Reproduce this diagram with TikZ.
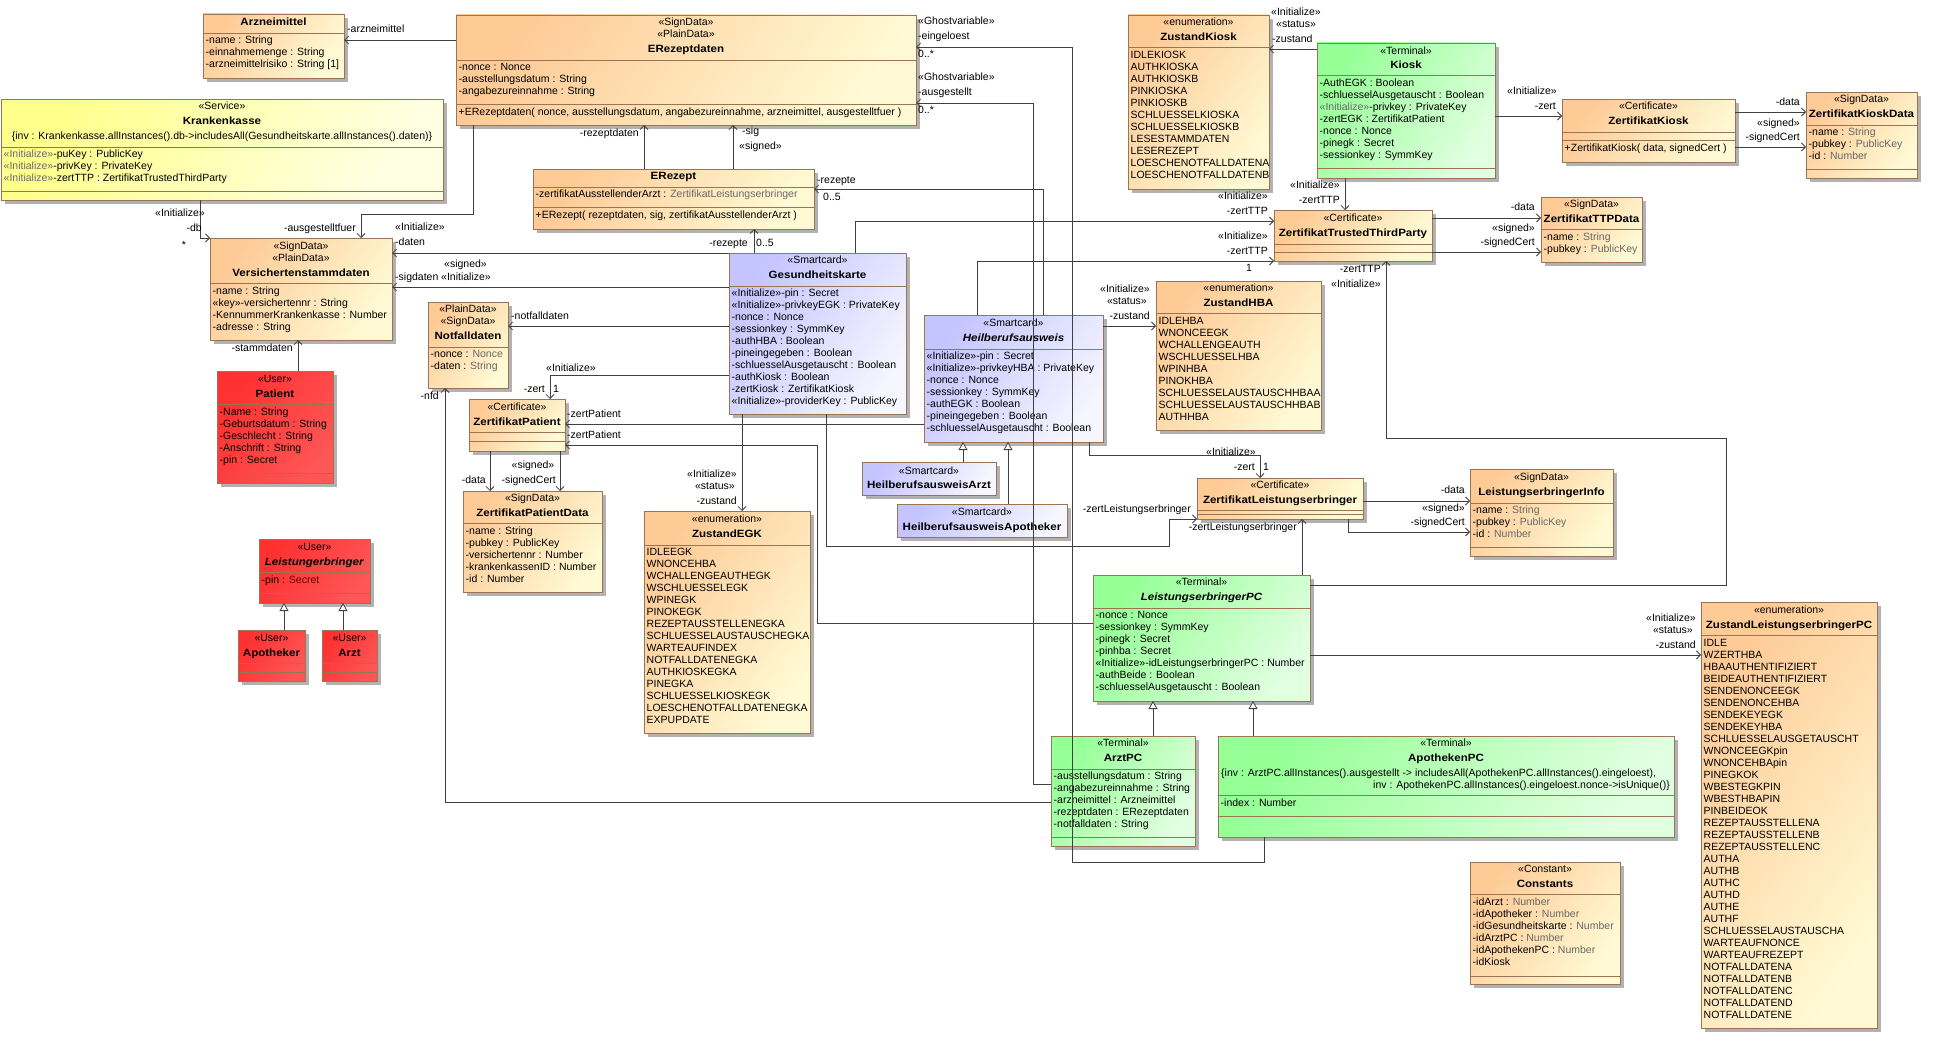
\documentclass[tikz,border=0pt]{standalone}
\usepackage{fontspec}
\setmainfont{Liberation Sans}
\newfontfamily\namefont{Liberation Sans}[FakeStretch=1.1]
\usetikzlibrary{arrows.meta, shadows}
\definecolor{orgL}{RGB}{254,202,150}
\definecolor{orgR}{RGB}{255,250,212}
\definecolor{yelL}{RGB}{255,255,140}
\definecolor{yelR}{RGB}{255,255,228}
\definecolor{lavL}{RGB}{196,196,255}
\definecolor{lavR}{RGB}{246,246,255}
\definecolor{grnL}{RGB}{150,255,150}
\definecolor{grnR}{RGB}{225,255,225}
\definecolor{redL}{RGB}{255,48,48}
\definecolor{redR}{RGB}{255,86,86}
\definecolor{boxline}{RGB}{155,115,85}
\definecolor{conline}{RGB}{64,64,64}
\definecolor{typegray}{RGB}{105,105,105}
\newcommand{\gr}[1]{\textcolor{typegray}{#1}}
\newcommand{\cname}[1]{{\namefont\bfseries #1}}
\newcommand{\sepline}[2]{\draw[sepln] (#1.west |- 0,#2) -- (#1.east |- 0,#2);}
\newcommand{\attrlist}[3]{%
  \foreach \entry [count=\k from 0] in {#3}
    \node[attr] at (#1.west |- 0,{#2+12*\k}) {\entry};}
\tikzset{
  cls/.style={draw=boxline, line width=0.8pt, anchor=north west, inner sep=0pt, outer sep=0pt,
    drop shadow={shadow xshift=4pt, shadow yshift=-4pt, fill=black!30, opacity=1}},
  orgbox/.style={cls, top color=orgL, bottom color=orgR, shading angle=55},
  yelbox/.style={cls, top color=yelL, bottom color=yelR, shading angle=55},
  lavbox/.style={cls, top color=lavL, bottom color=lavR, shading angle=55},
  grnbox/.style={cls, top color=grnL, bottom color=grnR, shading angle=55},
  redbox/.style={cls, top color=redL, bottom color=redR, shading angle=55},
  txt/.style={inner sep=0pt, anchor=mid},
  attr/.style={inner sep=0pt, anchor=mid west, xshift=2.5pt},
  lbl/.style={inner sep=0pt},
  sepln/.style={draw=boxline, line width=0.8pt},
  assoc/.style={draw=conline, line width=0.8pt, -{Straight Barb[length=4pt, width=8pt]}},
  gen/.style={draw=conline, line width=0.8pt, -{Triangle[length=8pt, width=9pt, fill=white]}}
}

\begin{document}
\begin{tikzpicture}[x=1pt, y=-1pt, font=\fontsize{10.5}{12}\selectfont]
  \useasboundingbox (0,0) rectangle (1937,1041);
  \fill[white] (0,0) rectangle (1937,1041);

  % Arzneimittel
  \node[orgbox, minimum width=141pt, minimum height=64pt] (arzneimittel) at (203,14) {};
  \node[txt] at (arzneimittel.north |- 0,23) {\cname{Arzneimittel}};
  \sepline{arzneimittel}{33}
  \attrlist{arzneimittel}{41}{-name : String, -einnahmemenge : String, -arzneimittelrisiko : String [1]}

  % Krankenkasse
  \node[yelbox, minimum width=442pt, minimum height=101pt] (krankenkasse) at (1,99) {};
  \node[txt] at (krankenkasse.north |- 0,107) {«Service»};
  \node[txt] at (krankenkasse.north |- 0,122) {\cname{Krankenkasse}};
  \node[txt] at (krankenkasse.north |- 0,137) {\{inv : Krankenkasse.allInstances().db->includesAll(Gesundheitskarte.allInstances().daten)\}};
  \sepline{krankenkasse}{147}
  \attrlist{krankenkasse}{155}{\gr{«Initialize»}-puKey : PublicKey, \gr{«Initialize»}-privKey : PrivateKey, \gr{«Initialize»}-zertTTP : ZertifikatTrustedThirdParty}
  \sepline{krankenkasse}{191}

  % ERezeptdaten
  \node[orgbox, minimum width=460pt, minimum height=110pt] (erezeptdaten) at (456,15) {};
  \node[txt] at (erezeptdaten.north |- 0,23) {«SignData»};
  \node[txt] at (erezeptdaten.north |- 0,35) {«PlainData»};
  \node[txt] at (erezeptdaten.north |- 0,50) {\cname{ERezeptdaten}};
  \sepline{erezeptdaten}{60}
  \attrlist{erezeptdaten}{68}{-nonce : Nonce, -ausstellungsdatum : String, -angabezureinnahme : String}
  \sepline{erezeptdaten}{104}
  \attrlist{erezeptdaten}{113}{{+ERezeptdaten( nonce, ausstellungsdatum, angabezureinnahme, arzneimittel, ausgestelltfuer )}}

  % ERezept
  \node[orgbox, minimum width=281pt, minimum height=60pt] (erezept) at (533,169) {};
  \node[txt] at (erezept.north |- 0,177) {\cname{ERezept}};
  \sepline{erezept}{187}
  \attrlist{erezept}{195}{-zertifikatAusstellenderArzt : \gr{ZertifikatLeistungserbringer}}
  \sepline{erezept}{207}
  \attrlist{erezept}{216}{{+ERezept( rezeptdaten, sig, zertifikatAusstellenderArzt )}}

  % Versichertenstammdaten
  \node[orgbox, minimum width=182pt, minimum height=102pt] (versicherten) at (210,238) {};
  \node[txt] at (versicherten.north |- 0,247) {«SignData»};
  \node[txt] at (versicherten.north |- 0,259) {«PlainData»};
  \node[txt] at (versicherten.north |- 0,274) {\cname{Versichertenstammdaten}};
  \sepline{versicherten}{283}
  \attrlist{versicherten}{292}{-name : String, «key»-versichertennr : String, -KennummerKrankenkasse : Number, -adresse : String}

  % Notfalldaten
  \node[orgbox, minimum width=80pt, minimum height=86pt] (notfalldaten) at (428,302) {};
  \node[txt] at (notfalldaten.north |- 0,310) {«PlainData»};
  \node[txt] at (notfalldaten.north |- 0,322) {«SignData»};
  \node[txt] at (notfalldaten.north |- 0,337) {\cname{Notfalldaten}};
  \sepline{notfalldaten}{347}
  \attrlist{notfalldaten}{355}{-nonce : \gr{Nonce}, -daten : \gr{String}}

  % Patient
  \node[redbox, minimum width=116pt, minimum height=112pt] (patient) at (217,371) {};
  \node[txt] at (patient.north |- 0,380) {«User»};
  \node[txt] at (patient.north |- 0,395) {\cname{Patient}};
  \sepline{patient}{404}
  \attrlist{patient}{413}{-Name : String, -Geburtsdatum : String, -Geschlecht : String, -Anschrift : String, -pin : Secret}
  \sepline{patient}{473}

  % Leistungerbringer, Apotheker, Arzt
  \node[redbox, minimum width=111pt, minimum height=64pt] (leistungerbringer) at (259,539) {};
  \node[txt] at (leistungerbringer.north |- 0,548) {«User»};
  \node[txt] at (leistungerbringer.north |- 0,563) {\cname{\textit{Leistungerbringer}}};
  \sepline{leistungerbringer}{572}
  \attrlist{leistungerbringer}{581}{-pin : \textcolor{black!60!red}{Secret}}
  \sepline{leistungerbringer}{593}
  \node[redbox, minimum width=67pt, minimum height=51pt] (apotheker) at (238,630) {};
  \node[txt] at (apotheker.north |- 0,639) {«User»};
  \node[txt] at (apotheker.north |- 0,654) {\cname{Apotheker}};
  \sepline{apotheker}{663}
  \sepline{apotheker}{672}
  \node[redbox, minimum width=55pt, minimum height=51pt] (arzt) at (322,630) {};
  \node[txt] at (arzt.north |- 0,639) {«User»};
  \node[txt] at (arzt.north |- 0,654) {\cname{Arzt}};
  \sepline{arzt}{663}
  \sepline{arzt}{672}

  % Gesundheitskarte
  \node[lavbox, minimum width=177pt, minimum height=161pt] (gesundheitskarte) at (729,253) {};
  \node[txt] at (gesundheitskarte.north |- 0,261) {«Smartcard»};
  \node[txt] at (gesundheitskarte.north |- 0,276) {\cname{Gesundheitskarte}};
  \sepline{gesundheitskarte}{286}
  \attrlist{gesundheitskarte}{294}{«Initialize»-pin : Secret, «Initialize»-privkeyEGK : PrivateKey, -nonce : Nonce, -sessionkey : SymmKey, -authHBA : Boolean, -pineingegeben : Boolean, -schluesselAusgetauscht : Boolean, -authKiosk : Boolean, -zertKiosk : ZertifikatKiosk, «Initialize»-providerKey : PublicKey}

  % ZertifikatPatient
  \node[orgbox, minimum width=96pt, minimum height=52pt] (zertpatient) at (469,399) {};
  \node[txt] at (zertpatient.north |- 0,408) {«Certificate»};
  \node[txt] at (zertpatient.north |- 0,423) {\cname{ZertifikatPatient}};
  \sepline{zertpatient}{432}
  \sepline{zertpatient}{441}

  % ZertifikatPatientData
  \node[orgbox, minimum width=139pt, minimum height=101pt] (zertpatientdata) at (463,491) {};
  \node[txt] at (zertpatientdata.north |- 0,499) {«SignData»};
  \node[txt] at (zertpatientdata.north |- 0,514) {\cname{ZertifikatPatientData}};
  \sepline{zertpatientdata}{523}
  \attrlist{zertpatientdata}{532}{-name : String, -pubkey : PublicKey, -versichertennr : Number, -krankenkassenID : Number, -id : Number}

  % ZustandEGK
  \node[orgbox, minimum width=166pt, minimum height=222pt] (zustandegk) at (644,511) {};
  \node[txt] at (zustandegk.north |- 0,520) {«enumeration»};
  \node[txt] at (zustandegk.north |- 0,535) {\cname{ZustandEGK}};
  \sepline{zustandegk}{545}
  \attrlist{zustandegk}{553}{IDLEEGK, WNONCEHBA, WCHALLENGEAUTHEGK, WSCHLUESSELEGK, WPINEGK, PINOKEGK, REZEPTAUSSTELLENEGKA, SCHLUESSELAUSTAUSCHEGKA, WARTEAUFINDEX, NOTFALLDATENEGKA, AUTHKIOSKEGKA, PINEGKA, SCHLUESSELKIOSKEGK, LOESCHENOTFALLDATENEGKA, EXPUPDATE}

  % ZustandKiosk
  \node[orgbox, minimum width=141pt, minimum height=174pt] (zustandkiosk) at (1128,15) {};
  \node[txt] at (zustandkiosk.north |- 0,23) {«enumeration»};
  \node[txt] at (zustandkiosk.north |- 0,38) {\cname{ZustandKiosk}};
  \sepline{zustandkiosk}{47}
  \attrlist{zustandkiosk}{56}{IDLEKIOSK, AUTHKIOSKA, AUTHKIOSKB, PINKIOSKA, PINKIOSKB, SCHLUESSELKIOSKA, SCHLUESSELKIOSKB, LESESTAMMDATEN, LESEREZEPT, LOESCHENOTFALLDATENA, LOESCHENOTFALLDATENB}

  % Kiosk
  \node[grnbox, minimum width=178pt, minimum height=135pt] (kiosk) at (1317,43) {};
  \node[txt] at (kiosk.north |- 0,52) {«Terminal»};
  \node[txt] at (kiosk.north |- 0,66) {\cname{Kiosk}};
  \sepline{kiosk}{75}
  \attrlist{kiosk}{84}{-AuthEGK : Boolean, -schluesselAusgetauscht : Boolean, \gr{«Initialize»}-privkey : PrivateKey, -zertEGK : ZertifikatPatient, -nonce : Nonce, -pinegk : Secret, -sessionkey : SymmKey}
  \sepline{kiosk}{168}

  % ZertifikatKiosk
  \node[orgbox, minimum width=173pt, minimum height=63pt] (zertkiosk) at (1562,99) {};
  \node[txt] at (zertkiosk.north |- 0,107) {«Certificate»};
  \node[txt] at (zertkiosk.north |- 0,122) {\cname{ZertifikatKiosk}};
  \sepline{zertkiosk}{132}
  \sepline{zertkiosk}{140}
  \attrlist{zertkiosk}{149}{{+ZertifikatKiosk( data, signedCert )}}

  % ZertifikatKioskData
  \node[orgbox, minimum width=111pt, minimum height=86pt] (zertkioskdata) at (1806,92) {};
  \node[txt] at (zertkioskdata.north |- 0,100) {«SignData»};
  \node[txt] at (zertkioskdata.north |- 0,115) {\cname{ZertifikatKioskData}};
  \sepline{zertkioskdata}{125}
  \attrlist{zertkioskdata}{133}{-name : \gr{String}, -pubkey : \gr{PublicKey}, -id : \gr{Number}}
  \sepline{zertkioskdata}{169}

  % ZertifikatTrustedThirdParty
  \node[orgbox, minimum width=158pt, minimum height=51pt] (zertttp) at (1274,210) {};
  \node[txt] at (zertttp.north |- 0,219) {«Certificate»};
  \node[txt] at (zertttp.north |- 0,234) {\cname{ZertifikatTrustedThirdParty}};
  \sepline{zertttp}{244}
  \sepline{zertttp}{252}

  % ZertifikatTTPData
  \node[orgbox, minimum width=101pt, minimum height=65pt] (zertttpdata) at (1541,197) {};
  \node[txt] at (zertttpdata.north |- 0,205) {«SignData»};
  \node[txt] at (zertttpdata.north |- 0,220) {\cname{ZertifikatTTPData}};
  \sepline{zertttpdata}{229}
  \attrlist{zertttpdata}{238}{-name : \gr{String}, -pubkey : \gr{PublicKey}}

  % Heilberufsausweis
  \node[lavbox, minimum width=179pt, minimum height=127pt] (heilberufsausweis) at (924,315) {};
  \node[txt] at (heilberufsausweis.north |- 0,324) {«Smartcard»};
  \node[txt] at (heilberufsausweis.north |- 0,339) {\cname{\textit{Heilberufsausweis}}};
  \sepline{heilberufsausweis}{349}
  \attrlist{heilberufsausweis}{357}{«Initialize»-pin : Secret, «Initialize»-privkeyHBA : PrivateKey, -nonce : Nonce, -sessionkey : SymmKey, -authEGK : Boolean, -pineingegeben : Boolean, -schluesselAusgetauscht : Boolean}

  % HeilberufsausweisArzt, HeilberufsausweisApotheker
  \node[lavbox, minimum width=134pt, minimum height=33pt] (hbaarzt) at (862,462) {};
  \node[txt] at (hbaarzt.north |- 0,472) {«Smartcard»};
  \node[txt] at (hbaarzt.north |- 0,486) {\cname{HeilberufsausweisArzt}};
  \node[lavbox, minimum width=170pt, minimum height=33pt] (hbaapotheker) at (897,504) {};
  \node[txt] at (hbaapotheker.north |- 0,513) {«Smartcard»};
  \node[txt] at (hbaapotheker.north |- 0,528) {\cname{HeilberufsausweisApotheker}};

  % ZustandHBA
  \node[orgbox, minimum width=165pt, minimum height=149pt] (zustandhba) at (1156,281) {};
  \node[txt] at (zustandhba.north |- 0,289) {«enumeration»};
  \node[txt] at (zustandhba.north |- 0,304) {\cname{ZustandHBA}};
  \sepline{zustandhba}{313}
  \attrlist{zustandhba}{322}{IDLEHBA, WNONCEEGK, WCHALLENGEAUTH, WSCHLUESSELHBA, WPINHBA, PINOKHBA, SCHLUESSELAUSTAUSCHHBAA, SCHLUESSELAUSTAUSCHHBAB, AUTHHBA}

  % ZertifikatLeistungserbringer
  \node[orgbox, minimum width=166pt, minimum height=41pt] (zertle) at (1197,478) {};
  \node[txt] at (zertle.north |- 0,486) {«Certificate»};
  \node[txt] at (zertle.north |- 0,501) {\cname{ZertifikatLeistungserbringer}};
  \sepline{zertle}{510}
  \sepline{zertle}{514}

  % LeistungserbringerInfo
  \node[orgbox, minimum width=143pt, minimum height=87pt] (leinfo) at (1470,469) {};
  \node[txt] at (leinfo.north |- 0,478) {«SignData»};
  \node[txt] at (leinfo.north |- 0,493) {\cname{LeistungserbringerInfo}};
  \sepline{leinfo}{503}
  \attrlist{leinfo}{511}{-name : \gr{String}, -pubkey : \gr{PublicKey}, -id : \gr{Number}}
  \sepline{leinfo}{547}

  % LeistungserbringerPC
  \node[grnbox, minimum width=217pt, minimum height=126pt] (lpc) at (1093,575) {};
  \node[txt] at (lpc.north |- 0,583) {«Terminal»};
  \node[txt] at (lpc.north |- 0,598) {\cname{\textit{LeistungserbringerPC}}};
  \sepline{lpc}{608}
  \attrlist{lpc}{616}{-nonce : Nonce, -sessionkey : SymmKey, -pinegk : Secret, -pinhba : Secret, «Initialize»-idLeistungserbringerPC : Number, -authBeide : Boolean, -schluesselAusgetauscht : Boolean}

  % ZustandLeistungserbringerPC
  \node[orgbox, minimum width=176pt, minimum height=426pt] (zustandlpc) at (1701,602) {};
  \node[txt] at (zustandlpc.north |- 0,611) {«enumeration»};
  \node[txt] at (zustandlpc.north |- 0,626) {\cname{ZustandLeistungserbringerPC}};
  \sepline{zustandlpc}{635}
  \attrlist{zustandlpc}{644}{IDLE, WZERTHBA, HBAAUTHENTIFIZIERT, BEIDEAUTHENTIFIZIERT, SENDENONCEEGK, SENDENONCEHBA, SENDEKEYEGK, SENDEKEYHBA, SCHLUESSELAUSGETAUSCHT, WNONCEEGKpin, WNONCEHBApin, PINEGKOK, WBESTEGKPIN, WBESTHBAPIN, PINBEIDEOK, REZEPTAUSSTELLENA, REZEPTAUSSTELLENB, REZEPTAUSSTELLENC, AUTHA, AUTHB, AUTHC, AUTHD, AUTHE, AUTHF, SCHLUESSELAUSTAUSCHA, WARTEAUFNONCE, WARTEAUFREZEPT, NOTFALLDATENA, NOTFALLDATENB, NOTFALLDATENC, NOTFALLDATEND, NOTFALLDATENE}

  % ArztPC
  \node[grnbox, minimum width=144pt, minimum height=110pt] (arztpc) at (1051,736) {};
  \node[txt] at (arztpc.north |- 0,744) {«Terminal»};
  \node[txt] at (arztpc.north |- 0,759) {\cname{ArztPC}};
  \sepline{arztpc}{769}
  \attrlist{arztpc}{777}{-ausstellungsdatum : String, -angabezureinnahme : String, -arzneimittel : Arzneimittel, -rezeptdaten : ERezeptdaten, -notfalldaten : String}
  \sepline{arztpc}{837}

  % ApothekenPC
  \node[grnbox, minimum width=456pt, minimum height=101pt] (apothekenpc) at (1218,736) {};
  \node[txt] at (apothekenpc.north |- 0,744) {«Terminal»};
  \node[txt] at (apothekenpc.north |- 0,759) {\cname{ApothekenPC}};
  \node[lbl, anchor=mid west] at (1221,774) {\{inv : ArztPC.allInstances().ausgestellt -> includesAll(ApothekenPC.allInstances().eingeloest),};
  \node[lbl, anchor=mid east] at (1670,786) {inv : ApothekenPC.allInstances().eingeloest.nonce->isUnique()\}};
  \sepline{apothekenpc}{795}
  \attrlist{apothekenpc}{804}{-index : Number}
  \sepline{apothekenpc}{816}

  % Constants
  \node[orgbox, minimum width=150pt, minimum height=122pt] (constants) at (1470,862) {};
  \node[txt] at (constants.north |- 0,870) {«Constant»};
  \node[txt] at (constants.north |- 0,885) {\cname{Constants}};
  \sepline{constants}{894}
  \attrlist{constants}{903}{-idArzt : \gr{Number}, -idApotheker : \gr{Number}, -idGesundheitskarte : \gr{Number}, -idArztPC : \gr{Number}, -idApothekenPC : \gr{Number}, -idKiosk}
  \sepline{constants}{976}

  % associations around ERezeptdaten
  \draw[assoc] (erezeptdaten.west |- 0,40) -- (arzneimittel.east |- 0,40);
  \node[lbl, anchor=mid west] at (347,30) {-arzneimittel};
  \draw[assoc] (erezeptdaten.south -| 473,0) |- (361,214) -- (versicherten.north -| 361,0);
  \node[lbl, anchor=mid east] at (356,229) {-ausgestelltfuer};
  \draw[assoc] (erezept.north -| 644,0) -- (erezeptdaten.south -| 644,0);
  \node[lbl, anchor=mid east] at (639,134) {-rezeptdaten};
  \draw[assoc] (erezept.north -| 733,0) -- (erezeptdaten.south -| 733,0);
  \node[lbl, anchor=mid west] at (742,132) {-sig};
  \node[lbl, anchor=mid west] at (739,147) {«signed»};
  \draw[assoc] (apothekenpc.south -| 1264,0) |- (1072,862) |- (erezeptdaten.east |- 0,47);
  \node[lbl, anchor=mid west] at (918,22) {«Ghostvariable»};
  \node[lbl, anchor=mid west] at (918,37) {-eingeloest};
  \node[lbl, anchor=mid west] at (918,55) {0..*};
  \draw[assoc] (arztpc.west |- 0,784) -| (1033,103) -- (erezeptdaten.east |- 0,103);
  \node[lbl, anchor=mid west] at (918,78) {«Ghostvariable»};
  \node[lbl, anchor=mid west] at (918,93) {-ausgestellt};
  \node[lbl, anchor=mid west] at (918,111) {0..*};

  % Krankenkasse and Patient
  \draw[assoc] (krankenkasse.south -| 200,0) |- (versicherten.north west);
  \node[lbl, anchor=mid] at (180,214) {«Initialize»};
  \node[lbl, anchor=mid east] at (202,229) {-db};
  \node[lbl, anchor=mid] at (184,246) {*};
  \draw[assoc] (patient.north -| 298,0) -- (versicherten.south -| 298,0);
  \node[lbl, anchor=mid east] at (293,349) {-stammdaten};

  % Gesundheitskarte
  \draw[assoc] (gesundheitskarte.north -| 754,0) -- (erezept.south -| 754,0);
  \node[lbl, anchor=mid east] at (748,244) {-rezepte};
  \node[lbl, anchor=mid west] at (756,244) {0..5};
  \draw[assoc] (gesundheitskarte.west |- 0,253) -- (versicherten.east |- 0,253);
  \node[lbl, anchor=mid west] at (395,228) {«Initialize»};
  \node[lbl, anchor=mid west] at (395,243) {-daten};
  \draw[assoc] (gesundheitskarte.west |- 0,287) -- (versicherten.east |- 0,287);
  \node[lbl, anchor=mid west] at (444,265) {«signed»};
  \node[lbl, anchor=mid west] at (395,278) {-sigdaten};
  \node[lbl, anchor=mid west] at (441,278) {«Initialize»};
  \draw[assoc] (gesundheitskarte.west |- 0,326) -- (notfalldaten.east |- 0,326);
  \node[lbl, anchor=mid west] at (511,317) {-notfalldaten};
  \draw[assoc] (gesundheitskarte.west |- 0,375) -| (zertpatient.north -| 550,0);
  \node[lbl, anchor=mid west] at (546,369) {«Initialize»};
  \node[lbl, anchor=mid east] at (545,390) {-zert};
  \node[lbl, anchor=mid west] at (553,390) {1};
  \draw[assoc] (gesundheitskarte.south -| 742,0) -- (zustandegk.north -| 742,0);
  \node[lbl, anchor=mid east] at (737,475) {«Initialize»};
  \node[lbl, anchor=mid east] at (735,487) {«status»};
  \node[lbl, anchor=mid east] at (737,502) {-zustand};
  \draw[assoc] (gesundheitskarte.south -| 826,0) |- (1169,546) |- (zertle.west |- 0,519);
  \node[lbl, anchor=mid east] at (1191,510) {-zertLeistungserbringer};
  \draw[assoc] (gesundheitskarte.north -| 855,0) |- (zertttp.west |- 0,221);
  \node[lbl, anchor=mid east] at (1268,197) {«Initialize»};
  \node[lbl, anchor=mid east] at (1268,212) {-zertTTP};

  % Heilberufsausweis
  \draw[assoc] (heilberufsausweis.north -| 1043,0) |- (erezept.east |- 0,189);
  \node[lbl, anchor=mid west] at (817,181) {-rezepte};
  \node[lbl, anchor=mid west] at (823,198) {0..5};
  \draw[assoc] (heilberufsausweis.north -| 977,0) |- (zertttp.west |- 0,261);
  \node[lbl, anchor=mid east] at (1268,237) {«Initialize»};
  \node[lbl, anchor=mid east] at (1268,252) {-zertTTP};
  \node[lbl, anchor=mid] at (1249,269) {1};
  \draw[assoc] (heilberufsausweis.east |- 0,326) -- (zustandhba.west |- 0,326);
  \node[lbl, anchor=mid east] at (1150,290) {«Initialize»};
  \node[lbl, anchor=mid east] at (1147,302) {«status»};
  \node[lbl, anchor=mid east] at (1150,317) {-zustand};
  \draw[assoc] (heilberufsausweis.south -| 1089,0) |- (1260,455) -- (zertle.north -| 1260,0);
  \node[lbl, anchor=mid] at (1231,453) {«Initialize»};
  \node[lbl, anchor=mid east] at (1255,468) {-zert};
  \node[lbl, anchor=mid west] at (1263,468) {1};
  \draw[assoc] (heilberufsausweis.west |- 0,424) -- (zertpatient.east |- 0,424);
  \node[lbl, anchor=mid west] at (567,415) {-zertPatient};
  \draw[gen] (hbaarzt.north -| 963,0) -- (heilberufsausweis.south -| 963,0);
  \draw[gen] (hbaapotheker.north -| 1008,0) -- (heilberufsausweis.south -| 1008,0);

  % users
  \draw[gen] (apotheker.north -| 284,0) -- (leistungerbringer.south -| 284,0);
  \draw[gen] (arzt.north -| 343,0) -- (leistungerbringer.south -| 343,0);

  % certificates
  \draw[assoc] (zertpatient.south -| 490,0) -- (zertpatientdata.north -| 490,0);
  \node[lbl, anchor=mid east] at (486,481) {-data};
  \draw[assoc] (zertpatient.south -| 560,0) -- (zertpatientdata.north -| 560,0);
  \node[lbl, anchor=mid] at (533,466) {«signed»};
  \node[lbl, anchor=mid east] at (556,481) {-signedCert};
  \draw[assoc] (zertkiosk.east |- 0,112) -- (zertkioskdata.west |- 0,112);
  \node[lbl, anchor=mid east] at (1800,103) {-data};
  \draw[assoc] (zertkiosk.east |- 0,147) -- (zertkioskdata.west |- 0,147);
  \node[lbl, anchor=mid east] at (1800,124) {«signed»};
  \node[lbl, anchor=mid east] at (1800,138) {-signedCert};
  \draw[assoc] (zertttp.east |- 0,218) -- (zertttpdata.west |- 0,218);
  \node[lbl, anchor=mid east] at (1535,208) {-data};
  \draw[assoc] (zertttp.east |- 0,252) -- (zertttpdata.west |- 0,252);
  \node[lbl, anchor=mid east] at (1535,229) {«signed»};
  \node[lbl, anchor=mid east] at (1535,243) {-signedCert};
  \draw[assoc] (zertle.east |- 0,501) -- (leinfo.west |- 0,501);
  \node[lbl, anchor=mid east] at (1465,491) {-data};
  \draw[assoc] (zertle.south -| 1348,0) |- (leinfo.west |- 0,532);
  \node[lbl, anchor=mid east] at (1465,509) {«signed»};
  \node[lbl, anchor=mid east] at (1465,523) {-signedCert};

  % Kiosk
  \draw[assoc] (kiosk.west |- 0,49) -- (zustandkiosk.east |- 0,49);
  \node[lbl, anchor=mid] at (1296,13) {«Initialize»};
  \node[lbl, anchor=mid] at (1296,25) {«status»};
  \node[lbl, anchor=mid west] at (1272,40) {-zustand};
  \draw[assoc] (kiosk.south -| 1345,0) -- (zertttp.north -| 1345,0);
  \node[lbl, anchor=mid east] at (1340,186) {«Initialize»};
  \node[lbl, anchor=mid east] at (1340,201) {-zertTTP};
  \draw[assoc] (kiosk.east |- 0,116) -- (zertkiosk.west |- 0,116);
  \node[lbl, anchor=mid] at (1532,92) {«Initialize»};
  \node[lbl, anchor=mid east] at (1556,107) {-zert};

  % PCs
  \draw[assoc] (arztpc.west |- 0,802) -| (notfalldaten.south -| 445,0);
  \node[lbl, anchor=mid east] at (439,397) {-nfd};
  \draw[gen] (arztpc.north -| 1153,0) -- (lpc.south -| 1153,0);
  \draw[gen] (apothekenpc.north -| 1253,0) -- (lpc.south -| 1253,0);
  \draw[assoc] (lpc.west |- 0,623) -| (817,445) -- (zertpatient.east |- 0,445);
  \node[lbl, anchor=mid west] at (567,436) {-zertPatient};
  \draw[assoc] (lpc.north -| 1302,0) -- (zertle.south -| 1302,0);
  \node[lbl, anchor=mid east] at (1297,528) {-zertLeistungserbringer};
  \draw[assoc] (lpc.east |- 0,655) -- (zustandlpc.west |- 0,655);
  \node[lbl, anchor=mid east] at (1696,619) {«Initialize»};
  \node[lbl, anchor=mid east] at (1693,631) {«status»};
  \node[lbl, anchor=mid east] at (1696,646) {-zustand};
  \draw[assoc] (lpc.east |- 0,585) -| (1726,438) -| (zertttp.south -| 1386,0);
  \node[lbl, anchor=mid east] at (1381,270) {-zertTTP};
  \node[lbl, anchor=mid east] at (1381,285) {«Initialize»};
\end{tikzpicture}
\end{document}
